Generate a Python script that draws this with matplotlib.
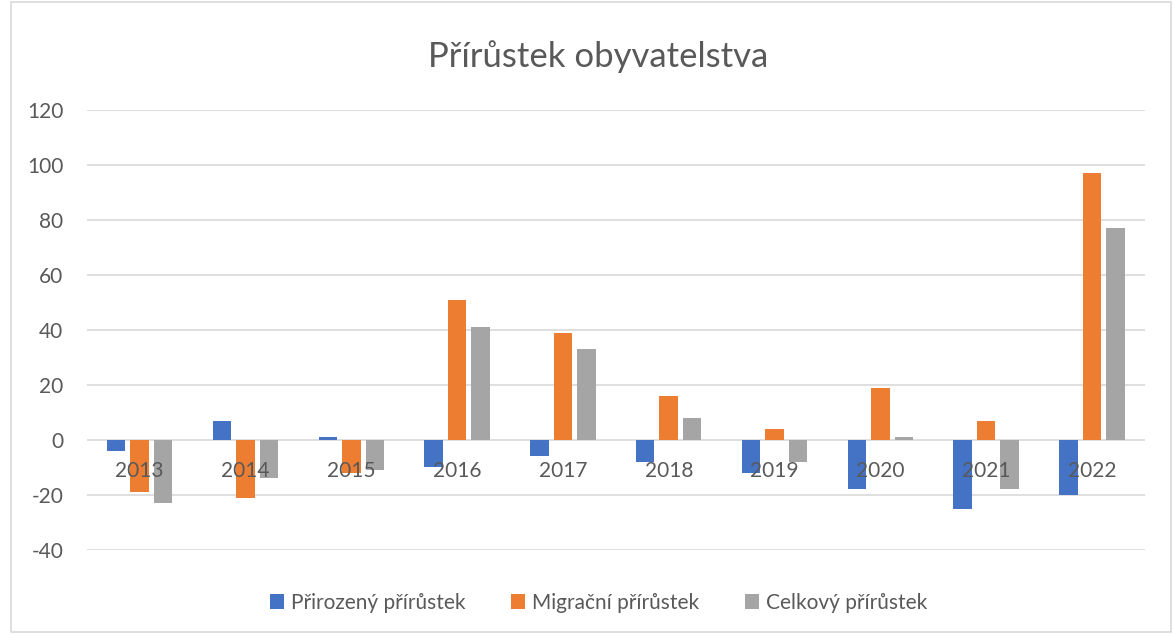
import numpy as np
import matplotlib.pyplot as plt
from matplotlib.patches import Rectangle

# data
years = ['2013', '2014', '2015', '2016', '2017', '2018', '2019', '2020', '2021', '2022']
prirozeny = [-4, 7, 1, -10, -6, -8, -12, -18, -25, -20]
migracni = [-19, -21, -12, 51, 39, 16, 4, 19, 7, 97]
celkovy = [-23, -14, -11, 41, 33, 8, -8, 1, -18, 77]
series_names = ['Přirozený přírůstek', 'Migrační přírůstek', 'Celkový přírůstek']
colors = ['#4472C4', '#ED7D31', '#A5A5A5']

plt.rcParams['font.family'] = ['Lato', 'DejaVu Sans']
plt.rcParams['axes.unicode_minus'] = False
text_col = '#595959'

fig = plt.figure(figsize=(11.73, 6.34), dpi=100)
ax = fig.add_axes([0.074, 0.1325, 0.902, 0.694])

x = np.arange(len(years))
offset = 0.222
width = 0.175
for k, (vals, name, c) in enumerate(zip([prirozeny, migracni, celkovy], series_names, colors)):
    ax.bar(x + (k - 1) * offset, vals, width, color=c, label=name, zorder=3)

ax.set_xlim(-0.5, len(years) - 0.5)
ax.set_ylim(-40, 120)
ax.set_yticks(range(-40, 121, 20))
ax.yaxis.grid(True, color='#D9D9D9', linewidth=1.2, zorder=0)
ax.set_xticks([])
for s in ax.spines.values():
    s.set_visible(False)
ax.tick_params(axis='y', length=0, pad=17, labelsize=15, labelcolor=text_col)

# category labels sit next to the zero line, like Excel does
for i, y in enumerate(years):
    ax.annotate(y, (i, 0), xytext=(0, -15), textcoords='offset points',
                ha='center', va='top', fontsize=15, color=text_col, zorder=4)

fig.text(0.51, 0.91, 'Přírůstek obyvatelstva', ha='center', va='center',
         fontsize=25, color=text_col)

fig.legend(loc='center', bbox_to_anchor=(0.51, 0.049), ncol=3, frameon=False,
           fontsize=15, handlelength=0.7, handleheight=0.7, handletextpad=0.3,
           columnspacing=2.2, labelcolor=text_col)

fig.patches.append(Rectangle((0.009, 0.003), 0.989, 0.994, transform=fig.transFigure,
                             fill=False, edgecolor='#D9D9D9', linewidth=1.2))

fig.savefig('out.png', dpi=100)
